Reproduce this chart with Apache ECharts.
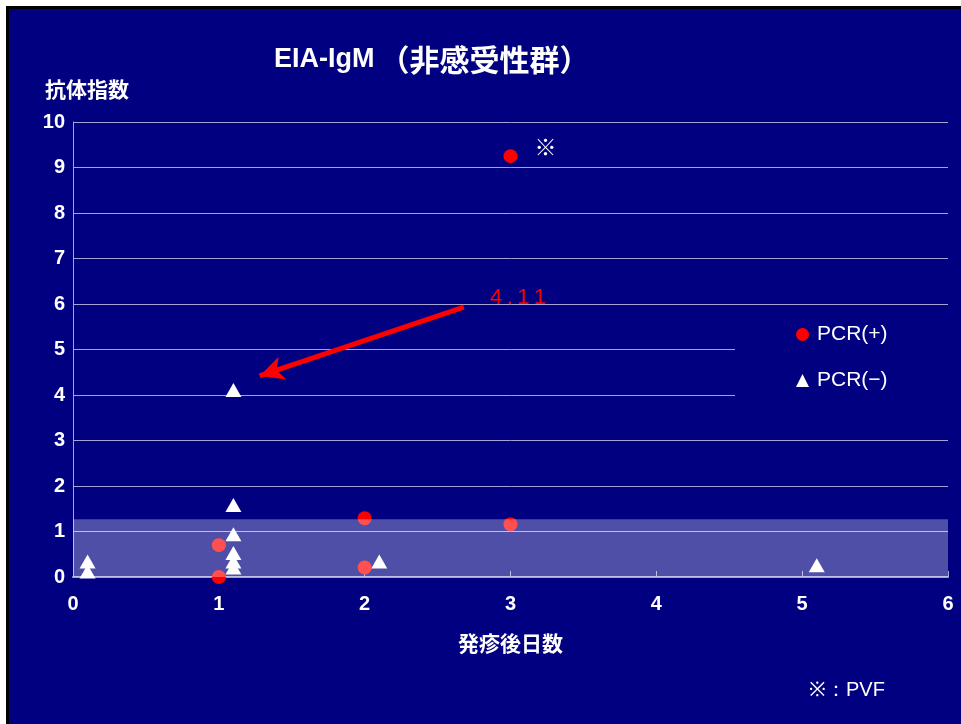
<!DOCTYPE html>
<html>
<head>
<meta charset="utf-8">
<script src="https://cdn.jsdelivr.net/npm/echarts@6/dist/echarts.min.js"></script>
<style>
  html, body { margin: 0; padding: 0; background: #ffffff; }
  #frame { position: absolute; left: 6px; top: 6px; border-top: 3px solid #000; border-left: 3px solid #000; }
  #chart { width: 952px; height: 715px; }
</style>
</head>
<body>
<div id="frame"><div id="chart"></div></div>
<script>
// Days since rash onset vs. antibody index, split by PCR result
const pcrPositive = [
  [3.0, 9.25],
  [2.0, 1.29],
  [3.0, 1.16],
  [1.0, 0.70],
  [1.0, 0.00],
  [2.0, 0.21]
];
const pcrNegative = [
  [1.1, 4.11],
  [1.1, 1.58],
  [1.1, 0.94],
  [1.1, 0.53],
  [1.1, 0.34],
  [1.1, 0.21],
  [0.1, 0.34],
  [0.1, 0.12],
  [2.1, 0.34],
  [5.1, 0.26]
];
const cutoffBand = [0, 1.27];          // shaded reference range of the index
const xTicks = [0, 1, 2, 3, 4, 5, 6];
const yTicks = [0, 1, 2, 3, 4, 5, 6, 7, 8, 9, 10];
const seriesNames = ['PCR(+)', 'PCR(\u2212)'];
const highlightValue = 4.11;           // PCR(-) value called out with an arrow
const pvfValue = 9.25;                 // PCR(+) case marked as PVF

const NAVY = '#000080';
const LINE = '#A4A4D4';
const CJK = '"Noto Sans CJK JP", "Liberation Sans", sans-serif';
const LATIN = '"Liberation Sans", Arial, sans-serif';

const hl = pcrNegative.find(p => p[1] === highlightValue);
const arrowStart = [hl[0] + 1.58, hl[1] + 1.82];
const arrowEnd = [hl[0] + 0.18, hl[1] + 0.31];
const labelPos = [hl[0] + 1.76, hl[1] + 2.02];

const chart = echarts.init(document.getElementById('chart'), null, { renderer: 'canvas' });

chart.setOption({
  backgroundColor: NAVY,
  animation: false,
  title: {
    text: '{a|EIA-IgM} {b|（非感受性群）}',
    left: 260,
    top: 31,
    textStyle: {
      rich: {
        a: { color: '#fff', fontFamily: LATIN, fontWeight: 'bold', fontSize: 27 },
        b: { color: '#fff', fontFamily: CJK, fontWeight: 'bold', fontSize: 30 }
      }
    }
  },
  legend: {
    orient: 'vertical',
    left: 726,
    top: 301,
    padding: [14, 70, 20, 61],
    backgroundColor: NAVY,
    itemWidth: 13,
    itemHeight: 13,
    itemGap: 25,
    textStyle: { color: '#fff', fontFamily: LATIN, fontSize: 21, padding: [0, 0, 0, 3] },
    data: [
      { name: seriesNames[0], icon: 'circle' },
      { name: seriesNames[1], icon: 'triangle' }
    ]
  },
  grid: { left: 64, top: 113, right: 13, bottom: 147 },
  xAxis: {
    type: 'value',
    min: xTicks[0],
    max: xTicks[xTicks.length - 1],
    interval: 1,
    name: '発疹後日数',
    nameLocation: 'middle',
    nameGap: 56,
    nameTextStyle: { color: '#fff', fontFamily: CJK, fontWeight: 'bold', fontSize: 21 },
    axisLine: { lineStyle: { color: LINE, width: 2 } },
    axisTick: { inside: true, length: 6, lineStyle: { color: LINE } },
    axisLabel: { color: '#fff', fontFamily: LATIN, fontWeight: 'bold', fontSize: 20, margin: 17 },
    splitLine: { show: false }
  },
  yAxis: {
    type: 'value',
    min: yTicks[0],
    max: yTicks[yTicks.length - 1],
    interval: 1,
    name: '抗体指数',
    nameLocation: 'end',
    nameGap: 22,
    nameTextStyle: { color: '#fff', fontFamily: CJK, fontWeight: 'bold', fontSize: 21, align: 'left', padding: [0, 0, 0, -28] },
    axisLine: { show: true, lineStyle: { color: LINE, width: 1 } },
    axisTick: { show: false },
    axisLabel: { color: '#fff', fontFamily: LATIN, fontWeight: 'bold', fontSize: 20, margin: 8 },
    splitLine: { lineStyle: { color: LINE, width: 1 } }
  },
  series: [
    {
      name: seriesNames[0],
      type: 'scatter',
      symbol: 'circle',
      symbolSize: 14,
      z: 3,
      itemStyle: { color: '#FF0000', opacity: 1 },
      data: pcrPositive.map(p => p[1] === pvfValue ? {
        value: p,
        label: {
          show: true, formatter: '※', position: 'right', distance: 17, offset: [0, -9],
          color: '#fff', fontFamily: CJK, fontWeight: 'bold', fontSize: 22
        }
      } : p)
    },
    {
      name: seriesNames[1],
      type: 'scatter',
      symbol: 'triangle',
      symbolSize: [16, 14],
      z: 3,
      itemStyle: { color: '#FFFFFF', opacity: 1 },
      data: pcrNegative,
      markLine: {
        silent: true,
        symbol: ['none', 'arrow'],
        symbolSize: [18, 24],
        lineStyle: { color: '#FF0000', width: 5, type: 'solid' },
        label: { show: false },
        data: [[{ coord: arrowStart }, { coord: arrowEnd }]]
      },
      markPoint: {
        silent: true,
        symbol: 'circle',
        symbolSize: 0,
        label: {
          show: true,
          position: 'inside',
          align: 'left',
          formatter: () => highlightValue.toFixed(2).split('').join('\u2009'),
          color: '#FF0000',
          fontFamily: LATIN,
          fontSize: 22
        },
        data: [{ coord: labelPos }]
      }
    },
    {
      // translucent band drawn over the low-index points
      type: 'scatter',
      data: [],
      z: 4,
      silent: true,
      markArea: {
        silent: true,
        z: 6,
        itemStyle: { color: 'rgba(255,255,255,0.31)' },
        data: [[{ coord: [xTicks[0], cutoffBand[0]] }, { coord: [xTicks[xTicks.length - 1], cutoffBand[1]] }]]
      }
    }
  ],
  graphic: [
    {
      type: 'text',
      left: 800,
      top: 671,
      style: { text: '※：PVF', fill: '#fff', font: '20px ' + LATIN }
    }
  ]
});
</script>
</body>
</html>
